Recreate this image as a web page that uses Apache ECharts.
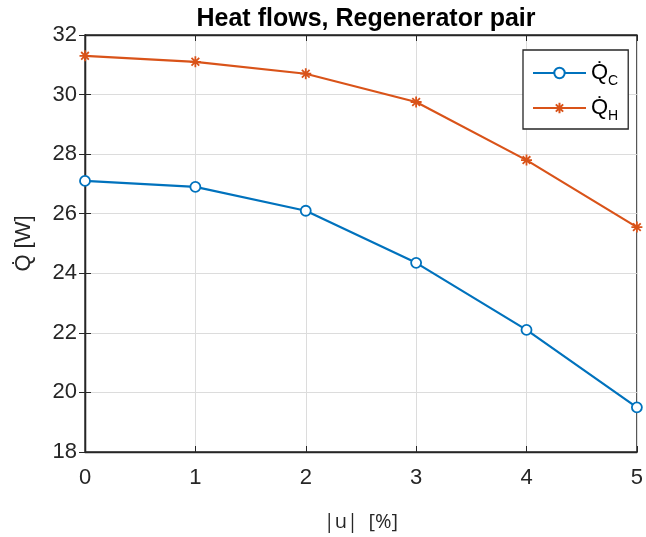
<!DOCTYPE html>
<html><head><meta charset="utf-8">
<script src="https://cdn.jsdelivr.net/npm/echarts@6/dist/echarts.min.js"></script>
<style>html,body{margin:0;padding:0;background:#fff}#c{width:646px;height:537px}</style>
</head><body><div id="c"></div>
<script>
const xValues = [0, 1, 2, 3, 4, 5];
const qC = [27.1, 26.9, 26.1, 24.35, 22.1, 19.5];
const qH = [31.3, 31.1, 30.7, 29.75, 27.8, 25.55];
const yTicks = [18, 20, 22, 24, 26, 28, 30, 32];

const chart = echarts.init(document.getElementById('c'));
const axisColor = '#262626';
const font = 'Liberation Sans, Arial, sans-serif';
const asterisk = 'path://M10,0L10,20M0,10L20,10M3,3L17,17M3,17L17,3';
const pair = a => a.map((v, i) => [xValues[i], v]);

chart.setOption({
  animation: false,
  backgroundColor: '#fff',
  title: {
    text: 'Heat flows, Regenerator pair',
    left: 361, top: 2, textAlign: 'center',
    textStyle: { fontFamily: font, fontWeight: 'bold', fontSize: 25, color: '#000' }
  },
  legend: {
    left: 523, top: 50,
    orient: 'vertical',
    backgroundColor: '#fff',
    borderColor: axisColor, borderWidth: 1.3, borderRadius: 0,
    padding: [12, 10, 6, 9],
    itemGap: 9, itemWidth: 53, itemHeight: 13,
    data: ['QC', 'QH'],
    formatter: n => n === 'QC' ? '{q|Q\u0307}{s|C}' : '{q|Q\u0307}{s|H}',
    textStyle: {
      fontFamily: font, color: '#000',
      rich: {
        q: { fontSize: 22, fontFamily: font, color: '#000' },
        s: { fontSize: 14, fontFamily: font, color: '#000', padding: [16, 0, 0, 0] }
      }
    }
  },
  grid: { left: 85, right: 9, top: 35, bottom: 83, show: true, borderColor: axisColor, borderWidth: 1.3 },
  xAxis: [{
    type: 'value', min: 0, max: 5, interval: 1,
    name: '|u|  [%]', nameLocation: 'middle', nameGap: 60,
    nameTextStyle: { fontFamily: 'Open Sans, sans-serif', fontSize: 20, color: axisColor },
    axisLine: { show: true, lineStyle: { color: axisColor, width: 1.3 } },
    axisTick: { show: true, inside: true, length: 6, lineStyle: { color: axisColor } },
    axisLabel: { fontFamily: font, fontSize: 22, color: axisColor, margin: 15 },
    splitLine: { show: true, lineStyle: { color: '#dcdcdc', width: 1 } }
  }, {
    type: 'value', min: 0, max: 5, interval: 1, position: 'top',
    axisLine: { show: true, lineStyle: { color: axisColor, width: 1.3 } },
    axisTick: { show: true, inside: true, length: 6, lineStyle: { color: axisColor } },
    axisLabel: { show: false }, splitLine: { show: false }
  }],
  yAxis: [{
    type: 'value', min: 18, max: 32, interval: 2,
    name: 'Q\u0307 [W]', nameLocation: 'middle', nameGap: 50, nameRotate: 90,
    nameTextStyle: { fontFamily: font, fontSize: 22, color: axisColor },
    axisLine: { show: true, lineStyle: { color: axisColor, width: 1.3 } },
    axisTick: { show: true, inside: true, length: 6, lineStyle: { color: axisColor } },
    axisLabel: { fontFamily: font, fontSize: 22, color: axisColor, margin: 8,
      formatter: v => yTicks.includes(v) ? String(v) : '' },
    splitLine: { show: true, lineStyle: { color: '#dcdcdc', width: 1 } }
  }, {
    type: 'value', min: 18, max: 32, interval: 2, position: 'right',
    axisLine: { show: true, lineStyle: { color: axisColor, width: 1.3 } },
    axisTick: { show: true, inside: true, length: 6, lineStyle: { color: axisColor } },
    axisLabel: { show: false }, splitLine: { show: false }
  }],
  series: [{
    name: 'QC', type: 'line', data: pair(qC),
    symbol: 'circle', symbolSize: 10, showAllSymbol: true,
    lineStyle: { color: '#0072BD', width: 2.2 },
    itemStyle: { color: '#fff', borderColor: '#0072BD', borderWidth: 1.8 },
    z: 3
  }, {
    name: 'QH', type: 'line', data: pair(qH),
    symbol: asterisk, symbolSize: 11, showAllSymbol: true,
    lineStyle: { color: '#D95319', width: 2.2 },
    itemStyle: { color: 'transparent', borderColor: '#D95319', borderWidth: 1.8 },
    z: 3
  }]
});
</script></body></html>
